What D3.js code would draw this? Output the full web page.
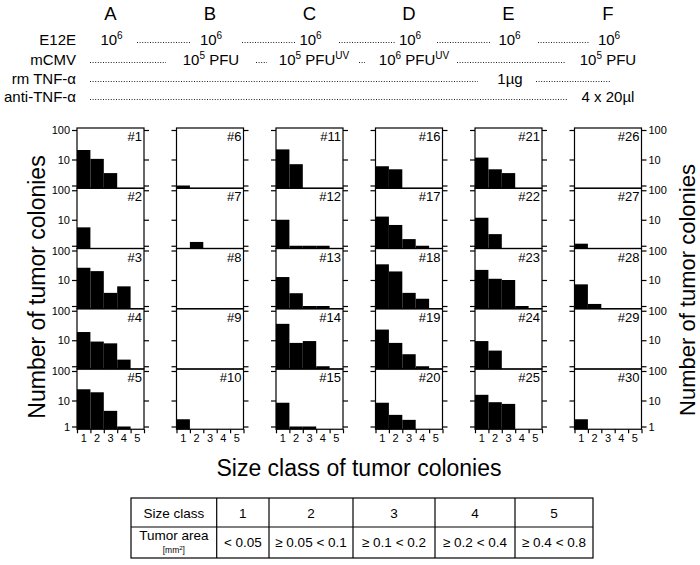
<!DOCTYPE html>
<html>
<head>
<meta charset="utf-8">
<script src="https://cdn.jsdelivr.net/npm/d3@7"></script>
<style>
  body { margin: 0; background: #fff; }
  text { font-family: "Liberation Sans", Arial, sans-serif; fill: #000; }
</style>
</head>
<body>
<svg width="700" height="565"></svg>
<script>
// groups and colony counts per size class (classes 1..5), five mice per group
var groups = ["A", "B", "C", "D", "E", "F"];
var sizeClasses = [1, 2, 3, 4, 5];
var yTicks = [1, 10, 100];

var colA = [[21, 10.5, 3, 0, 0], [5.1, 0, 0, 0, 0], [26, 20, 3.2, 5.7, 0], [19, 8.9, 7.6, 1.8, 0], [24, 19, 4, 1, 0]];
var colB = [[1, 0, 0, 0, 0], [0, 1.4, 0, 0, 0], [0, 0, 0, 0, 0], [0, 0, 0, 0, 0], [1.9, 0, 0, 0, 0]];
var colC = [[22, 6.6, 0, 0, 0], [10, 1, 1, 1, 0], [12.6, 3.1, 1, 1, 0], [36, 7.9, 9.3, 1, 0], [8.2, 1, 1, 0, 0]];
var colD = [[5.5, 4.2, 0, 0, 0], [12.8, 6.3, 1.8, 1, 0], [34, 19.5, 3.2, 1.9, 0], [23, 7.9, 2.9, 1, 0], [8.2, 2.8, 1.8, 0, 0]];
var colE = [[11.6, 4.2, 3, 0, 0], [11.7, 2.8, 0, 0, 0], [22, 11, 10, 1, 0], [9.3, 4, 0, 0, 0], [15.6, 8.6, 7.4, 0, 0]];
var colF = [[0, 0, 0, 0, 0], [1.2, 0, 0, 0, 0], [6.8, 1.2, 0, 0, 0], [0, 0, 0, 0, 0], [1.9, 0, 0, 0, 0]];
var columns = [colA, colB, colC, colD, colE, colF];

// treatment rows of the header
var treatLabels = ["E12E", "mCMV", "rm TNF-\u03b1", "anti-TNF-\u03b1"];

// legend table
var tableHead = ["Size class", "1", "2", "3", "4", "5"];
var tableArea = ["< 0.05", "\u2265 0.05 < 0.1", "\u2265 0.1  < 0.2", "\u2265 0.2  < 0.4", "\u2265 0.4 < 0.8"];

var svg = d3.select("svg");

var panelW = 67, rowH = 60.25, top0 = 128, left0 = 77, colStep = 99.5;

//////////// HEADER ////////////
var header = svg.append("g");
header.selectAll(".grp")
  .data(groups)
  .enter().append("text")
  .attr("x", function(d, i) { return left0 + i * colStep + panelW / 2; })
  .attr("y", 20)
  .attr("text-anchor", "middle")
  .style("font-size", "18.5px")
  .text(function(d) { return d; });

var rowY = [44.5, 64.5, 83.5, 101.5];
header.selectAll(".treat")
  .data(treatLabels)
  .enter().append("text")
  .attr("x", 76)
  .attr("y", function(d, i) { return rowY[i]; })
  .attr("text-anchor", "end")
  .style("font-size", "15px")
  .text(function(d) { return d; });

function dots(x1, x2, y) {
  header.append("line")
    .attr("x1", x1).attr("x2", x2)
    .attr("y1", y - 2).attr("y2", y - 2)
    .attr("stroke", "#222")
    .attr("stroke-width", 1)
    .attr("stroke-dasharray", "1,1.6");
}

function supText(x, y, base, sup, rest, sup2) {
  var t = header.append("text")
    .attr("x", x).attr("y", y)
    .attr("text-anchor", "middle")
    .style("font-size", "15px");
  t.append("tspan").text(base);
  t.append("tspan").attr("dy", -6).style("font-size", "10px").text(sup);
  t.append("tspan").attr("dy", 6).text(rest || "");
  if (sup2) t.append("tspan").attr("dy", -6).style("font-size", "10px").text(sup2);
  return t;
}

// E12E row
groups.forEach(function(g, i) {
  supText(left0 + i * colStep + panelW / 2 + 1, rowY[0], "10", "6");
});
[[137, 191], [242, 296], [339, 395], [437, 491], [538, 590]].forEach(function(s) { dots(s[0], s[1], rowY[0]); });

// mCMV row
supText(211, rowY[1], "10", "5", " PFU");
supText(314, rowY[1], "10", "5", " PFU", "UV");
supText(414, rowY[1], "10", "6", " PFU", "UV");
supText(608, rowY[1], "10", "5", " PFU");
[[90, 166], [256, 267], [359, 365], [457, 565]].forEach(function(s) { dots(s[0], s[1], rowY[1]); });

// rm TNF row
header.append("text").attr("x", 510).attr("y", rowY[2]).attr("text-anchor", "middle")
  .style("font-size", "15px").text("1\u00b5g");
dots(90, 478, rowY[2]);
dots(536, 610, rowY[2]);

// anti-TNF row
header.append("text").attr("x", 608).attr("y", rowY[3]).attr("text-anchor", "middle")
  .style("font-size", "15px").text("4 x 20\u00b5l");
dots(90, 567, rowY[3]);

//////////// PANELS ////////////
var panels = svg.append("g");
var x = d3.scaleBand().domain(sizeClasses).range([0, panelW]).padding(0);

columns.forEach(function(col, ci) {
  var L = left0 + ci * colStep;
  col.forEach(function(counts, ri) {
    var T = top0 + ri * rowH;
    var B = T + rowH;
    var y = d3.scaleLog().domain([1, 10, 100]).range([T + 57.5, T + 31.5, T + 2]);
    var g = panels.append("g").attr("transform", "translate(" + L + ",0)");

    g.selectAll("rect.bar")
      .data(counts.map(function(v, k) { return { c: sizeClasses[k], v: v }; }).filter(function(d) { return d.v > 0; }))
      .enter().append("rect")
      .attr("class", "bar")
      .attr("x", function(d) { return x(d.c); })
      .attr("width", x.bandwidth())
      .attr("y", function(d) { return y(d.v); })
      .attr("height", function(d) { return B - y(d.v); })
      .attr("fill", "#000");

    g.append("rect")
      .attr("x", 0).attr("y", T)
      .attr("width", panelW).attr("height", B - T)
      .attr("fill", "none")
      .attr("stroke", "#000")
      .attr("stroke-width", 1.2);

    // left and right tick marks; "1" is only labelled on the bottom row
    var fmt = function(d) { return (d === 1 && ri < 4) ? "" : d3.format("d")(d); };
    var lAx = d3.axisLeft(y).tickValues(yTicks).tickSize(5).tickPadding(2).tickFormat(ci === 0 ? fmt : "");
    var rAx = d3.axisRight(y).tickValues(yTicks).tickSize(5).tickPadding(2).tickFormat(ci === 5 ? fmt : "");
    [g.append("g").call(lAx), g.append("g").attr("transform", "translate(" + panelW + ",0)").call(rAx)].forEach(function(a) {
      a.select(".domain").remove();
      a.selectAll("line").attr("stroke", "#000").attr("stroke-width", 1.2);
      a.selectAll("text").style("font-size", "11px").attr("fill", "#000");
    });

    g.append("text")
      .attr("x", panelW - 2).attr("y", T + 13)
      .attr("text-anchor", "end")
      .style("font-size", "13px")
      .text("#" + (ci * 5 + ri + 1));

    if (ri === 4) {
      var edges = d3.scaleLinear().domain([0.5, 5.5]).range([0, panelW]);
      var bx = g.append("g").attr("transform", "translate(0," + B + ")")
        .call(d3.axisBottom(edges).tickValues([0.5, 1.5, 2.5, 3.5, 4.5, 5.5]).tickSize(4).tickFormat(""));
      bx.select(".domain").remove();
      bx.selectAll("line").attr("stroke", "#000").attr("stroke-width", 1.2);
      g.selectAll("text.xl")
        .data(sizeClasses)
        .enter().append("text")
        .attr("class", "xl")
        .attr("x", function(d) { return x(d) + x.bandwidth() / 2; })
        .attr("y", B + 13)
        .attr("text-anchor", "middle")
        .style("font-size", "11px")
        .text(function(d) { return d; });
    }
  });
});

// axis titles
svg.append("text")
  .attr("transform", "translate(45,287) rotate(-90)")
  .attr("text-anchor", "middle")
  .style("font-size", "23px")
  .text("Number of tumor colonies");
svg.append("text")
  .attr("transform", "translate(695,290) rotate(-90)")
  .attr("text-anchor", "middle")
  .style("font-size", "22px")
  .text("Number of tumor colonies");
svg.append("text")
  .attr("x", 359).attr("y", 476)
  .attr("text-anchor", "middle")
  .style("font-size", "23px")
  .text("Size class of tumor colonies");

//////////// TABLE ////////////
var tbl = svg.append("g");
var colEdges = [131, 216.7, 269, 353, 435, 515, 593];
var tTop = 498, tMid = 527, tBot = 558;
tbl.append("rect")
  .attr("x", colEdges[0]).attr("y", tTop)
  .attr("width", colEdges[6] - colEdges[0]).attr("height", tBot - tTop)
  .attr("fill", "none").attr("stroke", "#000").attr("stroke-width", 1.2);
tbl.append("line").attr("x1", colEdges[0]).attr("x2", colEdges[6]).attr("y1", tMid).attr("y2", tMid)
  .attr("stroke", "#000").attr("stroke-width", 1.2);
tbl.selectAll("line.v")
  .data(colEdges.slice(1, 6))
  .enter().append("line")
  .attr("x1", function(d) { return d; }).attr("x2", function(d) { return d; })
  .attr("y1", tTop).attr("y2", tBot)
  .attr("stroke", "#000").attr("stroke-width", 1.2);
tbl.selectAll("text.h")
  .data(tableHead)
  .enter().append("text")
  .attr("x", function(d, i) { return (colEdges[i] + colEdges[i + 1]) / 2; })
  .attr("y", 518)
  .attr("text-anchor", "middle")
  .style("font-size", "13.5px")
  .text(function(d) { return d; });
tbl.append("text").attr("x", (colEdges[0] + colEdges[1]) / 2).attr("y", 540)
  .attr("text-anchor", "middle").style("font-size", "13.5px").text("Tumor area");
var mm = tbl.append("text").attr("x", (colEdges[0] + colEdges[1]) / 2).attr("y", 553)
  .attr("text-anchor", "middle").style("font-size", "8.5px");
mm.append("tspan").text("[mm");
mm.append("tspan").attr("dy", -3).style("font-size", "6px").text("2");
mm.append("tspan").attr("dy", 3).text("]");
tbl.selectAll("text.a")
  .data(tableArea)
  .enter().append("text")
  .attr("x", function(d, i) { return (colEdges[i + 1] + colEdges[i + 2]) / 2; })
  .attr("y", 547)
  .attr("text-anchor", "middle")
  .style("font-size", "13.5px")
  .text(function(d) { return d; });
</script>
</body>
</html>
